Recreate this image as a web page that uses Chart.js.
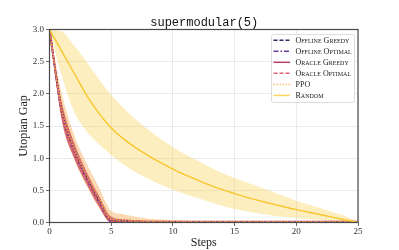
<!DOCTYPE html>
<html><head><meta charset="utf-8">
<script src="https://cdn.jsdelivr.net/npm/chart.js@4"></script>
<style>html,body{margin:0;padding:0;background:#fff;overflow:hidden}</style>
</head><body>
<canvas id="c" width="399" height="250"></canvas>
<script>
// ---- data ----
const steps = [0,1,2,3,4,5,6,7,8,9,10,11,12,13,14,15,16,17,18,19,20,21,22,23,24,25];
const offlineGreedy  = [3.0,1.74,1.12,0.70,0.34,0.03,0.02,0.015,0.012,0.01,0.01,0.01,0.01,0.01,0.01,0.01,0.01,0.01,0.01,0.01,0.01,0.01,0.01,0.01,0.01,0.01];
const offlineOptimal = [3.0,1.71,1.10,0.68,0.32,0.02,0.015,0.012,0.01,0.01,0.01,0.01,0.01,0.01,0.01,0.01,0.01,0.01,0.01,0.01,0.01,0.01,0.01,0.01,0.01,0.01];
const oracleGreedy   = [3.0,1.72,1.11,0.69,0.33,0.02,0.015,0.012,0.01,0.01,0.01,0.01,0.01,0.01,0.01,0.01,0.01,0.01,0.01,0.01,0.01,0.01,0.01,0.01,0.01,0.01];
const oracleOptimal  = [3.0,1.70,1.09,0.67,0.31,0.02,0.012,0.01,0.01,0.01,0.01,0.01,0.01,0.01,0.01,0.01,0.01,0.01,0.01,0.01,0.01,0.01,0.01,0.01,0.01,0.01];
const ppo            = [3.0,1.76,1.15,0.73,0.37,0.05,0.035,0.025,0.02,0.015,0.015,0.012,0.012,0.01,0.01,0.01,0.01,0.01,0.01,0.01,0.01,0.01,0.01,0.01,0.01,0.01];
const random         = [3.0,2.66,2.32,1.98,1.70,1.47,1.30,1.16,1.04,0.93,0.83,0.74,0.66,0.58,0.51,0.45,0.39,0.34,0.29,0.245,0.20,0.16,0.12,0.08,0.04,0.0];
// shaded ranges
const randomLow  = [3.0,2.28,1.72,1.42,1.22,1.05,0.90,0.78,0.68,0.59,0.51,0.44,0.38,0.32,0.26,0.21,0.17,0.14,0.11,0.09,0.07,0.05,0.04,0.02,0.01,0.0];
const randomHigh = [3.0,2.97,2.75,2.50,2.23,1.98,1.78,1.60,1.44,1.30,1.17,1.06,0.96,0.86,0.77,0.69,0.62,0.55,0.48,0.41,0.34,0.28,0.22,0.16,0.10,0.0];
const ppoLow     = [3.0,1.58,0.98,0.57,0.23,0.0,0.0,0.0,0.0,0.0,0.0,0.0,0.0,0.0,0.0,0.0,0.0,0.0,0.0,0.0,0.0,0.0,0.0,0.0,0.0,0.0];
const ppoHigh    = [3.0,2.00,1.36,0.92,0.55,0.18,0.13,0.09,0.06,0.045,0.035,0.03,0.025,0.02,0.02,0.02,0.02,0.02,0.02,0.02,0.02,0.02,0.02,0.02,0.02,0.02];
const oracleLow  = [3.0,1.59,1.00,0.60,0.25,0.0,0.0,0.0,0.0,0.0,0.0,0.0,0.0,0.0,0.0,0.0,0.0,0.0,0.0,0.0,0.0,0.0,0.0,0.0,0.0,0.0];
const oracleHigh = [3.0,1.86,1.24,0.79,0.42,0.09,0.05,0.035,0.025,0.02,0.015,0.015,0.015,0.015,0.015,0.015,0.015,0.015,0.015,0.015,0.015,0.015,0.015,0.015,0.015,0.015];
const yTicks = [0.0,0.5,1.0,1.5,2.0,2.5,3.0];
const xTicks = [0,5,10,15,20,25];
const labels = ['Offline Greedy','Offline Optimal','Oracle Greedy','Oracle Optimal','PPO','Random'];

// ---- styles ----
const C = {
  og:'#2f2a62', oo:'#6e3c9c', rg:'#b2406f', ro:'#e06470', ppo:'#f8a33c', rnd:'#f8c62c'
};
const pts = arr => steps.map((s,i)=>({x:s,y:arr[i]}));
function line(label,arr,color,dash,w,order){
  return {label,data:pts(arr),borderColor:color,borderDash:dash,borderWidth:w,pointRadius:0,
    fill:false,cubicInterpolationMode:'monotone',order};
}
const datasets = [];
function band(lo,hi,color,order){
  const i = datasets.length;
  datasets.push({label:'_lo',data:pts(lo),borderWidth:0,borderColor:'transparent',pointRadius:0,fill:false,cubicInterpolationMode:'monotone',order});
  datasets.push({label:'_hi',data:pts(hi),borderWidth:0,borderColor:'transparent',pointRadius:0,fill:{target:i},backgroundColor:color,cubicInterpolationMode:'monotone',order});
}
band(randomLow,randomHigh,'rgba(249,203,60,0.32)',20);
band(ppoLow,ppoHigh,'rgba(248,160,60,0.4)',19);
band(oracleLow,oracleHigh,'rgba(185,35,70,0.6)',18);
datasets.push(line(labels[0],offlineGreedy,C.og,[4,2],1.5,5));
datasets.push(line(labels[1],offlineOptimal,C.oo,[5,2,1.5,2],1.5,4));
datasets.push(line(labels[2],oracleGreedy,C.rg,[],2,6));
datasets.push(line(labels[3],oracleOptimal,C.ro,[4,2],1.5,3));
datasets.push(line(labels[4],ppo,C.ppo,[1.5,1.5],1.6,2));
datasets.push(line(labels[5],random,C.rnd,[],1.4,1));

const legendItems = [
  {t:labels[0],c:C.og,d:[4,2]},
  {t:labels[1],c:C.oo,d:[5,2,1.5,2]},
  {t:labels[2],c:C.rg,d:[]},
  {t:labels[3],c:C.ro,d:[4,2]},
  {t:labels[4],c:'#fbbf70',d:[1.5,1.5]},
  {t:labels[5],c:'#f9d65e',d:[]}
];

const deco = {
  id:'deco',
  afterDraw(chart){
    const ctx = chart.ctx, a = chart.chartArea;
    ctx.save();
    // frame
    ctx.strokeStyle='#4a4a4a'; ctx.lineWidth=1.2;
    ctx.strokeRect(a.left,a.top,a.right-a.left,a.bottom-a.top);
    // title
    ctx.fillStyle='#111';
    ctx.font="12px 'Liberation Mono'";
    ctx.textAlign='center'; ctx.textBaseline='alphabetic';
    ctx.fillText('supermodular(5)',(a.left+a.right)/2+0.5,25.5);
    // axis titles
    ctx.font="12px 'Liberation Serif'";
    ctx.fillStyle='#222';
    ctx.fillText('Steps',(a.left+a.right)/2,246);
    ctx.save();
    ctx.translate(27,(a.top+a.bottom)/2);
    ctx.rotate(-Math.PI/2);
    ctx.fillText('Utopian Gap',0,0);
    ctx.restore();
    // legend
    const lx=271, ly=34, lw=83, lh=68;
    ctx.fillStyle='rgba(255,255,255,0.85)';
    ctx.strokeStyle='#d4d4d4'; ctx.lineWidth=0.8;
    ctx.beginPath(); ctx.roundRect(lx+0.5,ly+0.5,lw,lh,2); ctx.fill(); ctx.stroke();
    legendItems.forEach((it,i)=>{
      const y = 40.2 + i*11.05;
      ctx.setLineDash(it.d); ctx.strokeStyle=it.c; ctx.lineWidth=1.5;
      ctx.beginPath(); ctx.moveTo(273.5,y); ctx.lineTo(290,y); ctx.stroke();
      ctx.setLineDash([]);
      ctx.fillStyle='#222'; ctx.textAlign='left'; ctx.textBaseline='middle';
      ctx.font="small-caps 8px 'Liberation Serif'";
      ctx.fillText(it.t,295.5,y+0.5);
    });
    ctx.restore();
  }
};

new Chart(document.getElementById('c'),{
  type:'line',
  data:{datasets},
  options:{
    responsive:false, devicePixelRatio:1, animation:false,
    layout:{padding:{left:0,right:41,top:29.5,bottom:0}},
    plugins:{legend:{display:false},tooltip:{enabled:false},title:{display:false}},
    scales:{
      x:{type:'linear',min:0,max:25,
        afterBuildTicks:s=>{s.ticks=xTicks.map(v=>({value:v}));},
        afterFit:s=>{s.height=27.5;},
        border:{display:false},
        grid:{color:'#e6e6e6',lineWidth:0.8,tickColor:'#444',tickLength:3.5,tickWidth:0.8},
        ticks:{font:{family:"'Liberation Serif'",size:9},color:'#333',padding:0,maxRotation:0,callback:v=>String(v)}},
      y:{type:'linear',min:0,max:3,
        afterBuildTicks:s=>{s.ticks=yTicks.map(v=>({value:v}));},
        afterFit:s=>{s.width=49.5;},
        border:{display:false},
        grid:{color:'#e6e6e6',lineWidth:0.8,tickColor:'#444',tickLength:3.5,tickWidth:0.8},
        ticks:{font:{family:"'Liberation Serif'",size:9},color:'#333',padding:2,callback:v=>Number(v).toFixed(1)}}
    }
  },
  plugins:[deco]
});
</script>
</body></html>
